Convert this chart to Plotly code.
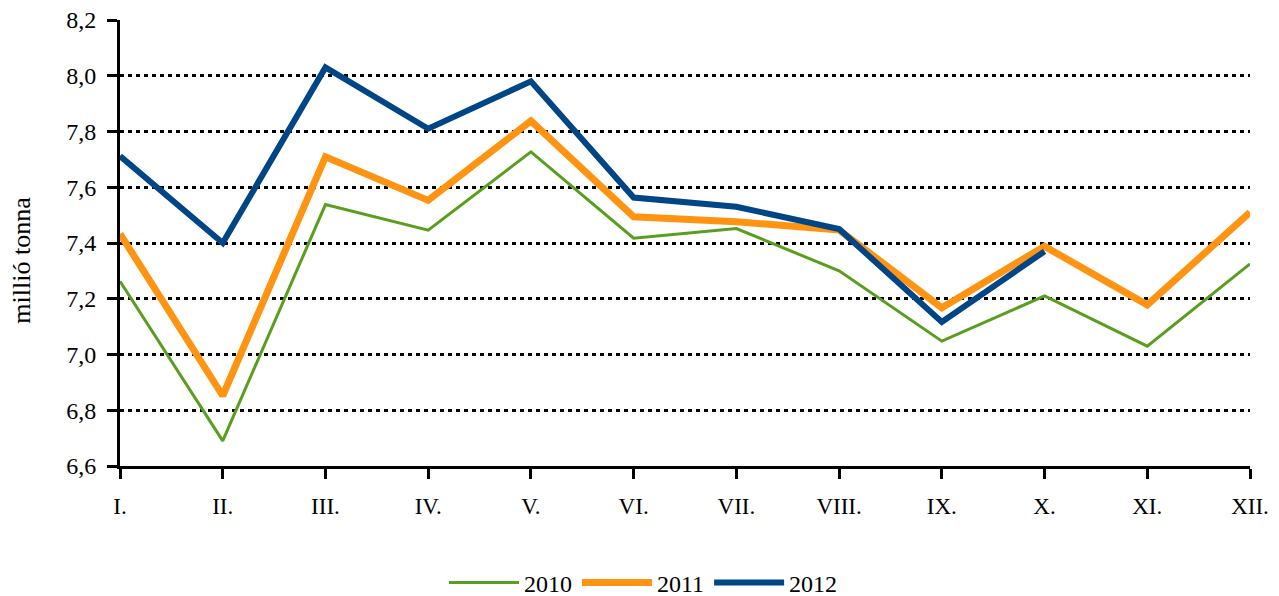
import plotly.graph_objects as go

months = ["I.", "II.", "III.", "IV.", "V.", "VI.", "VII.", "VIII.", "IX.", "X.", "XI.", "XII."]
y2010 = [7.263, 6.69, 7.538, 7.446, 7.727, 7.417, 7.452, 7.30, 7.048, 7.21, 7.03, 7.325]
y2011 = [7.433, 6.852, 7.709, 7.553, 7.838, 7.494, 7.476, 7.447, 7.168, 7.388, 7.178, 7.51]
y2012 = [7.712, 7.40, 8.03, 7.81, 7.98, 7.563, 7.53, 7.45, 7.117, 7.37]

FONT = "Liberation Serif"

fig = go.Figure()
fig.add_trace(go.Scatter(x=months, y=y2010, mode="lines", name="2010",
                         line=dict(color="#5a9e1f", width=3)))
fig.add_trace(go.Scatter(x=months, y=y2011, mode="lines", name="2011",
                         line=dict(color="#ff9412", width=7)))
fig.add_trace(go.Scatter(x=months[:len(y2012)], y=y2012, mode="lines", name="2012",
                         line=dict(color="#004586", width=6)))

fig.add_annotation(text="millió tonna", textangle=-90, showarrow=False,
                   xref="paper", yref="paper", x=-0.087, y=0.462,
                   xanchor="center", yanchor="middle",
                   font=dict(family=FONT, size=26, color="black"))

fig.update_layout(
    width=1271, height=588,
    margin=dict(l=112, r=29, t=12, b=130, autoexpand=False),
    plot_bgcolor="white", paper_bgcolor="white",
    separators=", ",
    font=dict(family=FONT, size=23, color="black"),
    legend=dict(orientation="h", xref="container", x=0.5, xanchor="center",
                y=-0.262, yanchor="middle",
                font=dict(family=FONT, size=24), itemwidth=70, traceorder="normal"),
    xaxis=dict(type="category", range=[0, 11], showgrid=False,
               showline=True, linecolor="black", linewidth=3,
               ticks="outside", ticklen=10, tickwidth=3, tickcolor="black",
               tickfont=dict(family=FONT, size=23), ticklabelstandoff=7),
    yaxis=dict(range=[6.6, 8.2], dtick=0.2, tick0=6.6, tickformat=".1f",
               showgrid=True, gridcolor="black", gridwidth=3, griddash="4px,4px",
               showline=True, linecolor="black", linewidth=3,
               ticks="outside", ticklen=10, tickwidth=3, tickcolor="black",
               tickfont=dict(family=FONT, size=24), ticklabelstandoff=6,
               ticklabeloverflow="allow", zeroline=False),
)

fig.write_html("out.html")
